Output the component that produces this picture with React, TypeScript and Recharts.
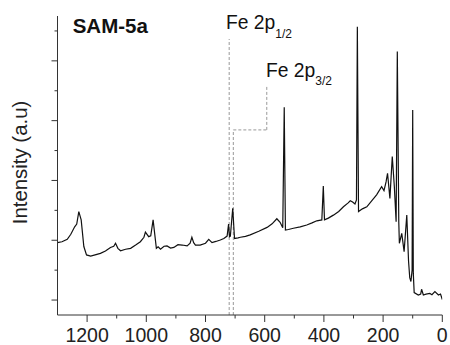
import React from 'react';
import { LineChart, Line, XAxis, YAxis, ReferenceLine, Customized } from 'recharts';

// binding energy (eV) and intensity (a.u.)
const bindingEnergy = [
  1300, 1285, 1267, 1255, 1242, 1235, 1228, 1220, 1211, 1202, 1188, 1170, 1155, 1138, 1121,
  1110, 1104, 1096, 1087, 1070, 1053, 1036, 1020, 1008, 1003, 992, 985, 977, 966, 960, 952,
  940, 930, 918, 907, 893, 879, 862, 852, 846, 840, 834, 818, 800, 789, 778, 765, 750, 738,
  727, 722, 719, 716, 708, 702, 690, 682, 665, 649, 620, 592, 575, 559, 548, 539, 534, 530,
  520, 503, 480, 458, 440, 424, 407, 402, 398, 385, 368, 350, 334, 318, 311, 303, 295, 290,
  287, 283, 270, 255, 240, 222, 205, 197, 190, 185, 177, 169, 162, 156, 152, 147, 145, 137,
  129, 120, 114, 110, 106, 102, 100, 98, 95, 81, 73, 70, 64, 55, 42, 35, 25, 13, 6, 0,
];
const intensity = [
  1.92, 1.95, 2.03, 2.2, 2.45, 2.54, 2.96, 2.68, 1.79, 1.51, 1.47, 1.52, 1.56, 1.64, 1.76,
  1.8, 1.9, 1.73, 1.65, 1.7, 1.73, 1.84, 1.95, 2.1, 2.27, 2.12, 2.15, 2.68, 1.73, 1.78, 1.7,
  1.8, 1.81, 1.74, 1.76, 1.85, 1.84, 1.81, 1.9, 2.1, 1.92, 1.84, 1.84, 1.9, 2.03, 1.92, 1.96,
  2.01, 2.06, 2.14, 2.54, 2.12, 2.14, 3.07, 2.06, 2.08, 2.1, 2.13, 2.18, 2.3, 2.43, 2.55, 2.72,
  2.6, 2.42, 6.45, 2.34, 2.36, 2.4, 2.45, 2.51, 2.58, 2.65, 2.68, 3.81, 2.68, 2.74, 2.84, 2.96,
  3.12, 3.25, 3.32, 3.28, 3.21, 3.35, 9.14, 2.96, 3.05, 3.12, 3.3, 3.52, 3.79, 3.66, 3.95, 4.24,
  3.4, 4.8, 3.79, 2.62, 8.31, 2.6, 1.9, 2.23, 1.62, 2.84, 1.3, 0.75, 0.62, 1.0, 6.36, 0.9,
  0.25, 0.17, 0.2, 0.36, 0.17, 0.2, 0.22, 0.18, 0.28, 0.17, 0.2, 0.02,
];

const xTicks = [0, 100, 200, 300, 400, 500, 600, 700, 800, 900, 1000, 1100, 1200];
const yTicks = [0, 1, 2, 3, 4, 5, 6, 7, 8, 9];

// dashed guides for the Fe 2p labels: [x1, y1, x2, y2]
const guideSegments = [
  [720, -0.5, 720, 8.73],
  [706, -0.5, 706, 5.69],
  [706, 5.69, 593, 5.69],
  [593, 5.69, 593, 7.16],
];

const data = bindingEnergy.map((be, i) => ({ be, v: intensity[i] }));

const FONT = '"Liberation Sans", Arial, sans-serif';
const AXIS = '#333';

const XTick = ({ x, y, payload }: any) => {
  const major = payload.value % 200 === 0;
  return (
    <g>
      <line x1={x} x2={x} y1={y} y2={y + (major ? 7 : 3.5)} stroke={AXIS} />
      {major && (
        <text x={x} y={y + 26.7} textAnchor="middle" fontSize={19.5} fontFamily={FONT} fill="#222">
          {payload.value}
        </text>
      )}
    </g>
  );
};

const YTick = ({ x, y, payload }: any) => {
  const major = payload.value % 2 === 0;
  return <line x1={x - (major ? 6 : 3)} x2={x} y1={y} y2={y} stroke={AXIS} />;
};

const Labels = () => (
  <g fontFamily={FONT} fill="#111">
    <text x={72.7} y={33} fontSize={20.5} fontWeight="bold">SAM-5a</text>
    <text x={226} y={29.3} fontSize={19.3}>
      Fe 2p<tspan fontSize={12} dy={9}>1/2</tspan>
    </text>
    <text x={266} y={77.3} fontSize={19.3}>
      Fe 2p<tspan fontSize={12} dy={8}>3/2</tspan>
    </text>
    <text
      x={27.3}
      y={162.5}
      fontSize={20.4}
      textAnchor="middle"
      transform="rotate(-90 27.3 162.5)"
      fill="#222"
    >
      Intensity (a.u)
    </text>
  </g>
);

export default function App() {
  return (
    <div style={{ position: 'absolute', left: 0, top: 0 }}>
      <LineChart
        width={450}
        height={345}
        data={data}
        margin={{ top: 16, right: 7.7, left: 0, bottom: 0 }}
      >
        <XAxis
          type="number"
          dataKey="be"
          domain={[0, 1300]}
          reversed
          allowDataOverflow
          ticks={xTicks}
          interval={0}
          tickSize={0}
          tickMargin={0}
          tickLine={false}
          tick={<XTick />}
          height={30}
          stroke={AXIS}
        />
        <YAxis
          type="number"
          domain={[-0.5, 9.5]}
          allowDataOverflow
          ticks={yTicks}
          interval={0}
          tickSize={0}
          tickMargin={0}
          tickLine={false}
          tick={<YTick />}
          width={57.5}
          stroke={AXIS}
        />
        {guideSegments.map(([x1, y1, x2, y2], i) => (
          <ReferenceLine
            key={i}
            segment={[{ x: x1, y: y1 }, { x: x2, y: y2 }]}
            stroke="#999"
            strokeDasharray="3 2"
            ifOverflow="visible"
          />
        ))}
        <Line
          type="linear"
          dataKey="v"
          stroke="#111"
          strokeWidth={1.2}
          dot={false}
          isAnimationActive={false}
        />
        <Customized component={<Labels />} />
      </LineChart>
    </div>
  );
}
